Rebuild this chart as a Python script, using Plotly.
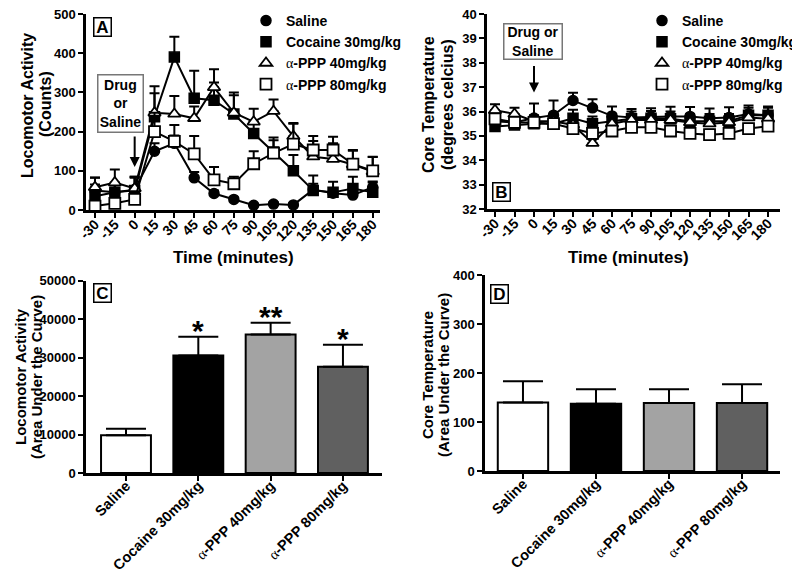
import plotly.graph_objects as go

W, H = 800, 575
# the page body adds an 8 px margin; layout positions below are page pixels
OX, OY = 8, 8


def fx(x):
    return (x - OX) / W


def fy(y):
    return 1 - (y - OY) / H


# ---------------- data ----------------
time_min = [-30, -15, 0, 15, 30, 45, 60, 75, 90, 105, 120, 135, 150, 165, 180]
time_labels = ["-30", "-15", "0", "15", "30", "45", "60", "75", "90", "105", "120", "135", "150", "165", "180"]

# Panel A: locomotor activity (counts)
loco_saline = [50, 45, 52, 150, 170, 82, 42, 27, 12, 15, 13, 52, 43, 38, 58]
loco_saline_err = [32, 18, 30, 20, 20, 15, 8, 5, 4, 5, 4, 15, 12, 14, 15]
loco_cocaine = [35, 45, 50, 238, 390, 285, 280, 245, 195, 148, 100, 50, 45, 55, 45]
loco_cocaine_err = [30, 20, 35, 78, 52, 70, 45, 55, 30, 30, 40, 38, 27, 30, 25]
loco_ppp40 = [58, 70, 55, 248, 245, 234, 313, 248, 225, 252, 188, 136, 130, 116, 98]
loco_ppp40_err = [25, 33, 30, 50, 46, 30, 46, 45, 33, 30, 34, 40, 40, 35, 37]
loco_ppp80 = [10, 17, 27, 200, 175, 143, 77, 67, 118, 145, 168, 153, 153, 117, 100]
loco_ppp80_err = [8, 8, 10, 48, 42, 46, 33, 18, 32, 40, 52, 36, 34, 36, 36]

# Panel B: core temperature (deg C)
temp_saline = [35.6, 35.55, 35.73, 35.85, 36.45, 36.15, 35.82, 35.75, 35.78, 35.8, 35.8, 35.72, 35.75, 35.9, 35.85]
temp_saline_err = [0.35, 0.3, 0.6, 0.6, 0.32, 0.35, 0.38, 0.35, 0.35, 0.4, 0.38, 0.4, 0.42, 0.35, 0.35]
temp_cocaine = [35.38, 35.45, 35.5, 35.5, 35.72, 35.5, 35.6, 35.7, 35.72, 35.7, 35.6, 35.6, 35.6, 35.85, 35.85]
temp_cocaine_err = [0.3, 0.3, 0.3, 0.3, 0.35, 0.3, 0.3, 0.3, 0.3, 0.3, 0.3, 0.3, 0.3, 0.3, 0.3]
temp_ppp40 = [36.05, 35.9, 35.6, 35.6, 35.45, 34.7, 35.5, 35.65, 35.65, 35.65, 35.55, 35.5, 35.55, 35.75, 35.7]
temp_ppp40_err = [0.25, 0.25, 0.25, 0.25, 0.25, 0.25, 0.25, 0.25, 0.25, 0.25, 0.25, 0.25, 0.25, 0.25, 0.25]
temp_ppp80 = [35.7, 35.55, 35.55, 35.5, 35.3, 35.1, 35.2, 35.35, 35.35, 35.2, 35.1, 35.05, 35.1, 35.3, 35.4]
temp_ppp80_err = [0.2, 0.2, 0.2, 0.2, 0.2, 0.2, 0.2, 0.2, 0.2, 0.2, 0.2, 0.2, 0.2, 0.2, 0.2]

# Panels C and D: area under the curve
ALPHA = "<span style='font-family:Liberation Serif;font-weight:normal'>α</span>"
group_labels = ["Saline", "Cocaine 30mg/kg", ALPHA + "-PPP 40mg/kg", ALPHA + "-PPP 80mg/kg"]
auc_loco = [9800, 30500, 36000, 27600]
auc_loco_err = [1700, 4900, 3000, 5700]
auc_temp = [140, 137, 139, 139]
auc_temp_err = [43, 30, 28, 38]
signif = ["", "*", "**", "*"]

bar_colors = ["#ffffff", "#000000", "#a3a3a3", "#606060"]

# ---------------- styles ----------------
FONT = "Liberation Sans"
marker_styles = [
    dict(symbol="circle", color="black", size=10, line=dict(color="black", width=1.5)),
    dict(symbol="square", color="black", size=10, line=dict(color="black", width=1.5)),
    dict(symbol="triangle-up", color="white", size=11, line=dict(color="black", width=1.8)),
    dict(symbol="square", color="white", size=11, line=dict(color="black", width=1.8)),
]

fig = go.Figure()

loco_series = [(loco_saline, loco_saline_err), (loco_cocaine, loco_cocaine_err),
               (loco_ppp40, loco_ppp40_err), (loco_ppp80, loco_ppp80_err)]
temp_series = [(temp_saline, temp_saline_err), (temp_cocaine, temp_cocaine_err),
               (temp_ppp40, temp_ppp40_err), (temp_ppp80, temp_ppp80_err)]


def err(vals):
    return dict(type="data", array=vals, arrayminus=[0] * len(vals), symmetric=False,
                color="black", thickness=2, width=5)


for (vals, e), ms in zip(loco_series, marker_styles):
    fig.add_trace(go.Scatter(x=time_min, y=vals, mode="lines+markers", xaxis="x", yaxis="y",
                             line=dict(color="black", width=2), marker=ms, error_y=err(e),
                             showlegend=False, cliponaxis=False))
for (vals, e), ms in zip(temp_series, marker_styles):
    fig.add_trace(go.Scatter(x=time_min, y=vals, mode="lines+markers", xaxis="x2", yaxis="y2",
                             line=dict(color="black", width=2), marker=ms, error_y=err(e),
                             showlegend=False, cliponaxis=False))

# legend entries
for name, ms in zip(group_labels, marker_styles):
    fig.add_trace(go.Scatter(x=[None], y=[None], mode="markers", marker=ms, name=name,
                             xaxis="x", yaxis="y", legend="legend"))
for name, ms in zip(group_labels, marker_styles):
    fig.add_trace(go.Scatter(x=[None], y=[None], mode="markers", marker=ms, name=name,
                             xaxis="x2", yaxis="y2", legend="legend2"))

bar_err = lambda e: dict(type="data", array=e, arrayminus=[0] * len(e), symmetric=False,
                         color="black", thickness=2, width=20)
fig.add_trace(go.Bar(x=group_labels, y=auc_loco, xaxis="x3", yaxis="y3", width=0.69,
                     marker=dict(color=bar_colors, line=dict(color="black", width=2)),
                     error_y=bar_err(auc_loco_err), showlegend=False))
fig.add_trace(go.Bar(x=group_labels, y=auc_temp, xaxis="x4", yaxis="y4", width=0.69,
                     marker=dict(color=bar_colors, line=dict(color="black", width=2)),
                     error_y=bar_err(auc_temp_err), showlegend=False))


def axis(size=13, **kw):
    d = dict(showline=True, linecolor="black", linewidth=2.5, ticks="outside", ticklen=5,
             tickwidth=2, tickcolor="black", showgrid=False, zeroline=False, automargin=False,
             ticklabeloverflow="allow",
             tickfont=dict(family=FONT, size=size, color="black", weight="bold"))
    d.update(kw)
    return d


fig.update_layout(
    width=W, height=H, margin=dict(l=0, r=0, t=0, b=0, autoexpand=False),
    paper_bgcolor="white", plot_bgcolor="white",
    font=dict(family=FONT, color="black"),
    xaxis=axis(14, domain=[fx(86), fx(380)], range=[-36.8, 185.5], anchor="y",
               tickvals=time_min, ticktext=time_labels, tickangle=-45, ticklabelstandoff=-7),
    yaxis=axis(13, domain=[fy(210), fy(14)], range=[0, 500], anchor="x", dtick=100),
    xaxis2=axis(14, domain=[fx(487), fx(780)], range=[-36.15, 189.2], anchor="y2",
                tickvals=time_min, ticktext=time_labels, tickangle=-45, ticklabelstandoff=-7),
    yaxis2=axis(13, domain=[fy(209), fy(14)], range=[32, 40], anchor="x2", dtick=1),
    xaxis3=axis(14.5, domain=[fx(86), fx(382)], range=[-0.553, 3.54], anchor="y3",
                tickangle=-45, type="category", ticklabelstandoff=-9),
    yaxis3=axis(13, domain=[fy(473), fy(280.5)], range=[0, 50000], anchor="x3",
                dtick=10000, tickformat="d"),
    xaxis4=axis(14.5, domain=[fx(485), fx(780)], range=[-0.52, 3.52], anchor="y4",
                tickangle=-45, type="category", ticklabelstandoff=-9),
    yaxis4=axis(13, domain=[fy(471), fy(275)], range=[0, 400], anchor="x4", dtick=100),
    legend=dict(x=fx(246), y=fy(5), xanchor="left", yanchor="top", bgcolor="rgba(0,0,0,0)",
                font=dict(family=FONT, size=14, weight="bold", color="black"), tracegroupgap=0),
    legend2=dict(x=fx(642), y=fy(5), xanchor="left", yanchor="top", bgcolor="rgba(0,0,0,0)",
                 font=dict(family=FONT, size=14, weight="bold", color="black"), tracegroupgap=0),
    bargap=0.3,
)

annotations = []


def text_ann(txt, x, y, size=16, angle=0, **kw):
    d = dict(text=txt, x=fx(x), y=fy(y), xref="paper", yref="paper", showarrow=False,
             textangle=angle, xanchor="center", yanchor="middle",
             font=dict(family=FONT, size=size, color="black", weight="bold"))
    d.update(kw)
    annotations.append(d)


# axis titles
text_ann("Locomotor Activity", 28, 106, 16, -90)
text_ann("(Counts)", 45, 104, 16, -90)
text_ann("Core Temperature", 429, 105, 16, -90)
text_ann("(degrees celcius)", 447, 104, 16, -90)
text_ann("Locomotor Activity", 20, 377, 15, -90)
text_ann("(Area Under the Curve)", 36, 377, 15, -90)
text_ann("Core Temperature", 427, 375, 15, -90)
text_ann("(Area Under the Curve)", 443, 375, 15, -90)
text_ann("Time (minutes)", 233, 257, 17)
text_ann("Time (minutes)", 628, 257, 17)

# panel letters
for letter, (lx, ly) in zip("ABCD", [(102, 27), (501.5, 191.5), (102.5, 293), (499.5, 294)]):
    text_ann(letter, lx, ly, 17, 0, bordercolor="black", borderwidth=1.5, width=16, height=17, borderpad=0)

# injection boxes
text_ann("Drug<br>or<br>Saline", 121, 103.5, 14, 0, bordercolor="#777777", borderwidth=1.5,
         width=44, height=56, borderpad=0)
text_ann("Drug or<br>Saline", 532.5, 41, 14, 0, bordercolor="#777777", borderwidth=1.5,
         width=57, height=34, borderpad=0)

# arrows at injection time
annotations.append(dict(x=0, y=110, xref="x", yref="y", ax=0, ay=-32, text="", showarrow=True,
                        arrowhead=2, arrowsize=1, arrowwidth=2, arrowcolor="black"))
annotations.append(dict(x=0, y=36.78, xref="x2", yref="y2", ax=0, ay=-28, text="", showarrow=True,
                        arrowhead=2, arrowsize=1, arrowwidth=2, arrowcolor="black"))

# significance stars
for i, s in enumerate(signif):
    if s:
        annotations.append(dict(x=group_labels[i], y=auc_loco[i] + auc_loco_err[i], xref="x3", yref="y3",
                                text=s, showarrow=False, yanchor="bottom", yshift=-12,
                                font=dict(family=FONT, size=30, color="black", weight="bold")))

fig.update_layout(annotations=annotations)
fig.write_html("out.html")
